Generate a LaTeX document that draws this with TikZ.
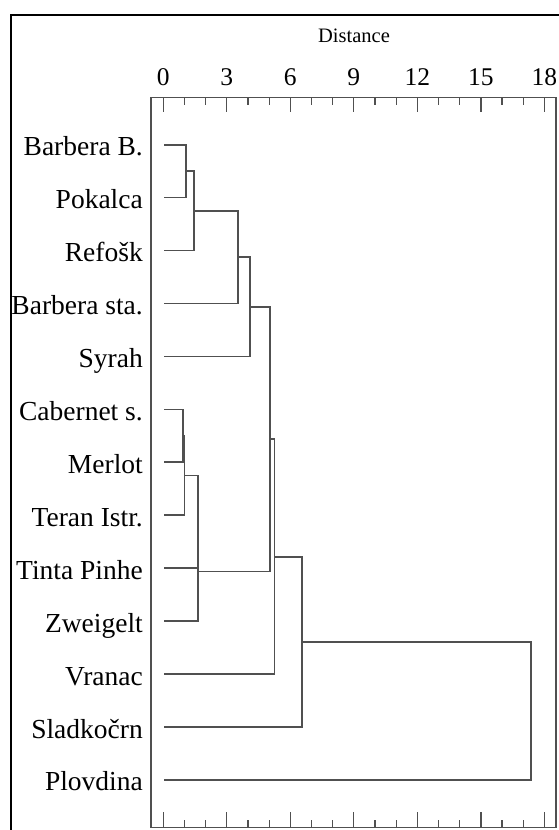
\documentclass[tikz,border=0pt]{standalone}
\usepackage{fontspec}
\setmainfont{Liberation Serif}
\definecolor{linegray}{RGB}{80,80,80}
\begin{document}
\begin{tikzpicture}[x=1pt,y=-1pt,
  dend/.style={draw=linegray, line width=1.7pt},
  framebox/.style={draw=linegray, line width=1.5pt},
  outerframe/.style={draw=black, line width=2.6pt},
  tickline/.style={draw=linegray, line width=1.3pt},
  lab/.style={anchor=base east, inner sep=0pt, font=\fontsize{27.5}{31}\selectfont},
  ticklab/.style={anchor=center, inner sep=0pt, font=\fontsize{25.5}{28}\selectfont},
  axtitle/.style={anchor=center, inner sep=0pt, font=\fontsize{20.5}{24}\selectfont}]
\useasboundingbox (0,0) rectangle (559,830);
\clip (0,0) rectangle (559,830);
\fill[white] (0,0) rectangle (559,830);
% outer frame (right and bottom edges lie outside the picture)
\draw[outerframe] (11,840) -- (11,15) -- (570,15);
% inner frame
\draw[framebox] (151,97.7) rectangle (556,827.3);
% axis title and ticks
\node[axtitle] (title) at (354,36) {Distance};
\foreach \k in {0,...,18}{
  \pgfmathsetmacro{\xx}{163.3+21.17*\k}
  \pgfmathtruncatemacro{\mm}{mod(\k,3)}
  \ifnum\mm=0
    \draw[tickline] (\xx,97.7) -- (\xx,111.7);
    \draw[tickline] (\xx,827.3) -- (\xx,812.3);
  \else
    \draw[tickline] (\xx,97.7) -- (\xx,104.7);
    \draw[tickline] (\xx,827.3) -- (\xx,820.3);
  \fi
}
\foreach \v [count=\i from 0] in {0,3,6,9,12,15,18}{
  \node[ticklab] (t\i) at ({163.3+63.51*\i},77) {\v};
}
% leaves
\foreach \name [count=\i from 0] in {Barbera B.,Pokalca,Refošk,Barbera sta.,Syrah,Cabernet s.,Merlot,Teran Istr.,Tinta Pinhe,Zweigelt,Vranac,Sladkočrn,Plovdina}{
  \pgfmathsetmacro{\yy}{144.7+52.94*\i}
  \node[lab] (n\i) at (143,\yy+11) {\name};
  \coordinate (l\i) at (164,\yy);
}
% joins
\coordinate (J1) at (185.7,171.2);
\coordinate (J2) at (194.3,210.9);
\coordinate (J3) at (237.7,257.2);
\coordinate (J4) at (250.0,306.9);
\coordinate (J5) at (183.3,435.9);
\coordinate (J6) at (184.5,475.6);
\coordinate (J7) at (198.3,521.9);
\coordinate (J8) at (198.3,571.6);
\coordinate (J9) at (269.7,439.2);
\coordinate (J10) at (274.5,556.7);
\coordinate (J11) at (301.7,641.8);
\coordinate (J12) at (531.0,710.9);
\draw[dend] (l0) -| (J1) |- (l1);
\draw[dend] (J1) -| (J2) |- (l2);
\draw[dend] (J2) -| (J3) |- (l3);
\draw[dend] (J3) -| (J4) |- (l4);
\draw[dend] (l5) -| (J5) |- (l6);
\draw[dend] (J5) -| (J6) |- (l7);
\draw[dend] (J6) -| (J7) |- (l8);
\draw[dend] (J7) -| (J8) |- (l9);
\draw[dend] (J4) -| (J9) |- (J8);
\draw[dend] (J9) -| (J10) |- (l10);
\draw[dend] (J10) -| (J11) |- (l11);
\draw[dend] (J11) -| (J12) |- (l12);
\end{tikzpicture}
\end{document}
